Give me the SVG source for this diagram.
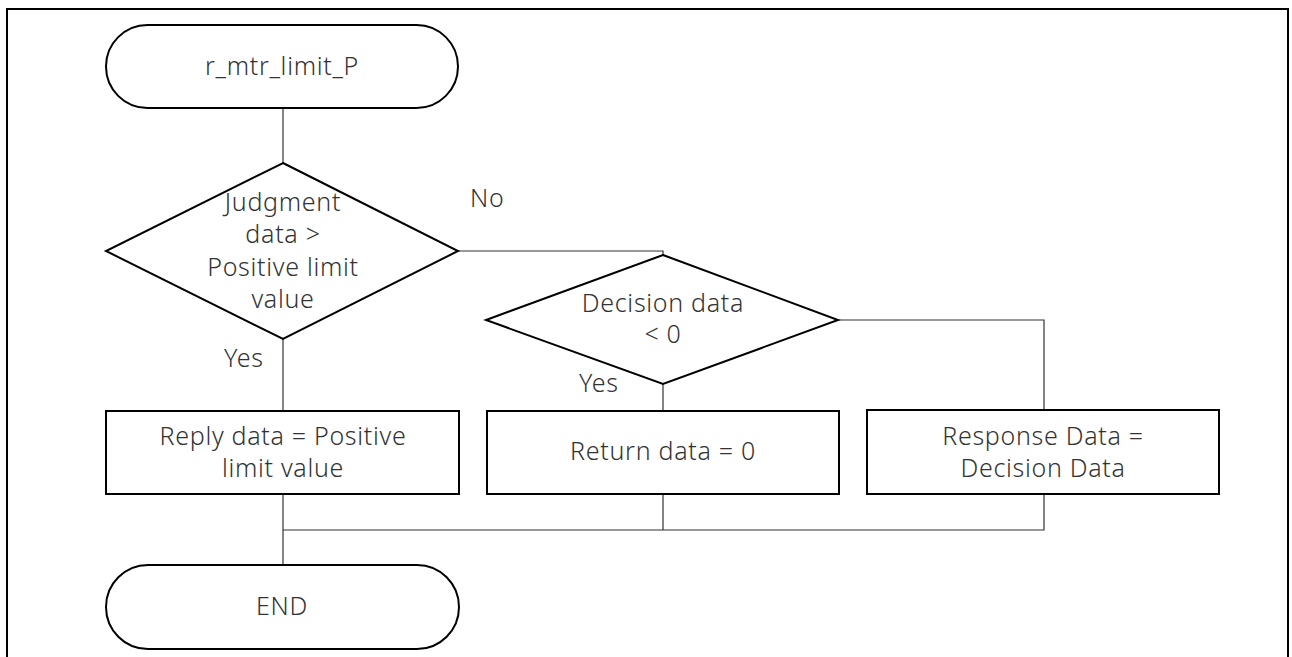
<svg xmlns="http://www.w3.org/2000/svg" width="1292" height="657" viewBox="0 0 1292 657">
<style>
.shape{fill:#fff;stroke:#000;stroke-width:2}
.conn{fill:none;stroke:#333;stroke-width:1.2}
text{font-family:"Noto Sans","Liberation Sans",sans-serif;font-size:25px;font-weight:300;letter-spacing:0.7px;fill:#333;text-anchor:middle}
.lbl{text-anchor:start}
</style>
<rect x="0" y="0" width="1292" height="657" fill="#fff"/>
<rect x="7" y="9" width="1281" height="660" fill="none" stroke="#000" stroke-width="2"/>
<g id="connectors">
<path class="conn" d="M283,108 V163"/>
<path class="conn" d="M458,251 H663 V255"/>
<path class="conn" d="M283,339 V411"/>
<path class="conn" d="M663,384 V411"/>
<path class="conn" d="M838,320 H1044 V410"/>
<path class="conn" d="M283,494 V565"/>
<path class="conn" d="M663,494 V530"/>
<path class="conn" d="M1044,494 V530 H283"/>
</g>
<g id="start">
<rect class="shape" x="106" y="25" width="352" height="83" rx="41.5"/>
<text x="282" y="75">r_mtr_limit_P</text>
</g>
<g id="decision1">
<polygon class="shape" points="283,163 458,251 283,339 106,251"/>
<text x="283" y="211">Judgment</text>
<text x="283" y="243">data &gt;</text>
<text x="283" y="276">Positive limit</text>
<text x="283" y="308">value</text>
</g>
<g id="label-no">
<text class="lbl" x="470" y="207">No</text>
</g>
<g id="label-yes1">
<text class="lbl" x="224" y="367">Yes</text>
</g>
<g id="decision2">
<polygon class="shape" points="663,255 838,320 663,384 486,320"/>
<text x="663" y="312">Decision data</text>
<text x="663" y="343">&lt; 0</text>
</g>
<g id="label-yes2">
<text class="lbl" x="579" y="392">Yes</text>
</g>
<g id="box1">
<rect class="shape" x="106" y="411" width="353" height="83"/>
<text x="283" y="445">Reply data = Positive</text>
<text x="283" y="477">limit value</text>
</g>
<g id="box2">
<rect class="shape" x="487" y="411" width="352" height="83"/>
<text x="663" y="460">Return data = 0</text>
</g>
<g id="box3">
<rect class="shape" x="867" y="410" width="352" height="84"/>
<text x="1043" y="445">Response Data =</text>
<text x="1043" y="477">Decision Data</text>
</g>
<g id="end">
<rect class="shape" x="106" y="565" width="353" height="84" rx="42"/>
<text x="282" y="615">END</text>
</g>
</svg>
